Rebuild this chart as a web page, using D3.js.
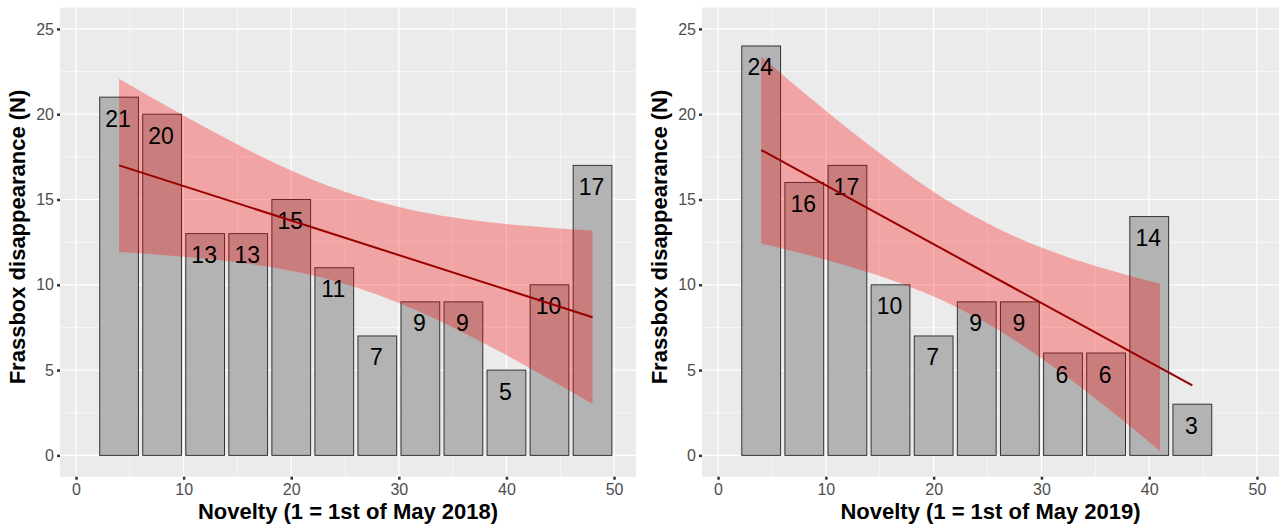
<!DOCTYPE html>
<html><head><meta charset="utf-8">
<script src="https://cdn.jsdelivr.net/npm/d3@7"></script>
<style>
body{margin:0;background:#fff}
svg{display:block}
text{font-family:"Liberation Sans",Arial,Helvetica,sans-serif}
</style>
</head><body>
<svg id="chart" width="1283" height="528"></svg>
<script>
// ---- data ----
const days2018 = [4, 8, 12, 16, 20, 24, 28, 32, 36, 40, 44, 48];
const counts2018 = [21, 20, 13, 13, 15, 11, 7, 9, 9, 5, 10, 17];
const days2019 = [4, 8, 12, 16, 20, 24, 28, 32, 36, 40, 44];
const counts2019 = [24, 16, 17, 10, 7, 9, 9, 6, 6, 14, 3];

// fitted trend lines
const fitX2018 = [4, 48];
const fitY2018 = [17.0, 8.1];
const fitX2019 = [4, 44];
const fitY2019 = [17.9, 4.1];

// confidence ribbons
const bandX2018 = [4, 8, 12, 16, 20, 24, 28, 32, 36, 40, 44, 48];
const bandHi2018 = [22.08, 20.63, 19.23, 17.90, 16.70, 15.68, 14.88, 14.28, 13.86, 13.56, 13.35, 13.18];
const bandLo2018 = [11.92, 11.75, 11.53, 11.24, 10.82, 10.22, 9.42, 8.40, 7.19, 5.88, 4.47, 3.02];
const bandX2019 = [4, 8, 12, 16, 20, 24, 28, 32, 36, 40, 41];
const bandHi2019 = [23.38, 21.24, 19.18, 17.24, 15.46, 13.94, 12.70, 11.72, 10.92, 10.22, 10.06];
const bandLo2019 = [12.42, 11.80, 11.10, 10.30, 9.32, 8.08, 6.56, 4.78, 2.84, 0.78, 0.24];

const xTicks = [0, 10, 20, 30, 40, 50];
const xMinor = [5, 15, 25, 35, 45];
const yTicks = [0, 5, 10, 15, 20, 25];
const yMinor = [2.5, 7.5, 12.5, 17.5, 22.5];
const xTitle2018 = "Novelty (1 = 1st of May 2018)";
const xTitle2019 = "Novelty (1 = 1st of May 2019)";
const yTitle = "Frassbox disappearance (N)";
const barWidthDays = 3.6;

// ---- drawing ----
const svg = d3.select("#chart");
const panelTop = 7.6, panelBottom = 476.7;
const y = d3.scaleLinear().domain([-1.25, 26.25]).range([panelBottom, panelTop]);

function drawPanel(opt) {
  const g = svg.append("g");
  const x = d3.scaleLinear().domain([-1.49, 52.04]).range([opt.x0, opt.x1]);

  g.append("rect").attr("x", opt.x0).attr("y", panelTop)
    .attr("width", opt.x1 - opt.x0).attr("height", panelBottom - panelTop)
    .attr("fill", "#EBEBEB");

  // minor grid
  g.selectAll(".xm").data(xMinor).enter().append("line")
    .attr("x1", d => x(d)).attr("x2", d => x(d))
    .attr("y1", panelTop).attr("y2", panelBottom)
    .attr("stroke", "#fff").attr("stroke-width", 0.6);
  g.selectAll(".ym").data(yMinor).enter().append("line")
    .attr("x1", opt.x0).attr("x2", opt.x1)
    .attr("y1", d => y(d)).attr("y2", d => y(d))
    .attr("stroke", "#fff").attr("stroke-width", 0.6);
  // major grid
  g.selectAll(".xg").data(xTicks).enter().append("line")
    .attr("x1", d => x(d)).attr("x2", d => x(d))
    .attr("y1", panelTop).attr("y2", panelBottom)
    .attr("stroke", "#fff").attr("stroke-width", 1.2);
  g.selectAll(".yg").data(yTicks).enter().append("line")
    .attr("x1", opt.x0).attr("x2", opt.x1)
    .attr("y1", d => y(d)).attr("y2", d => y(d))
    .attr("stroke", "#fff").attr("stroke-width", 1.2);

  // bars
  const data = opt.days.map((d, i) => ({ d, v: opt.counts[i] }));
  g.selectAll(".bar").data(data).enter().append("rect")
    .attr("x", d => x(d.d - barWidthDays / 2))
    .attr("width", d => x(d.d + barWidthDays / 2) - x(d.d - barWidthDays / 2))
    .attr("y", d => y(d.v))
    .attr("height", d => y(0) - y(d.v))
    .attr("fill", "#B3B3B3").attr("stroke", "#333").attr("stroke-width", 1);

  // ribbon
  const band = opt.bandX.map((d, i) => ({ d, hi: opt.bandHi[i], lo: opt.bandLo[i] }));
  g.append("path").datum(band)
    .attr("d", d3.area().curve(d3.curveMonotoneX)
      .x(d => x(d.d)).y0(d => y(d.lo)).y1(d => y(d.hi)))
    .attr("fill", "red").attr("fill-opacity", 0.3);

  // labels
  g.selectAll(".lab").data(data).enter().append("text")
    .attr("x", d => x(d.d) - 1).attr("y", d => y(d.v) + 29.5)
    .attr("text-anchor", "middle").attr("font-size", 23).attr("fill", "#000")
    .text(d => d.v);

  // fit line
  const fit = opt.fitX.map((d, i) => ({ d, v: opt.fitY[i] }));
  g.append("path").datum(fit)
    .attr("d", d3.line().x(d => x(d.d)).y(d => y(d.v)))
    .attr("fill", "none").attr("stroke", "#990000").attr("stroke-width", 2);

  // y axis
  const ya = g.append("g").attr("transform", `translate(${opt.x0},0)`)
    .call(d3.axisLeft(y).tickValues(yTicks).tickSize(3).tickPadding(3).tickFormat(d3.format("d")));
  ya.select(".domain").remove();
  ya.selectAll(".tick line").attr("stroke", "#333").attr("stroke-width", 2.5);
  ya.selectAll(".tick text").attr("fill", "#4D4D4D").attr("font-size", 16)
    .attr("font-family", '"Liberation Sans",Arial,sans-serif');

  // x axis
  const xa = g.append("g").attr("transform", `translate(0,${panelBottom})`)
    .call(d3.axisBottom(x).tickValues(xTicks).tickSize(3).tickPadding(4).tickFormat(d3.format("d")));
  xa.select(".domain").remove();
  xa.selectAll(".tick line").attr("stroke", "#333").attr("stroke-width", 2.5);
  xa.selectAll(".tick text").attr("fill", "#4D4D4D").attr("font-size", 16)
    .attr("font-family", '"Liberation Sans",Arial,sans-serif');

  // titles
  g.append("text").attr("x", (opt.x0 + opt.x1) / 2).attr("y", 519)
    .attr("text-anchor", "middle").attr("font-size", 22).attr("font-weight", "bold")
    .attr("fill", "#000").text(opt.xTitle);
  g.append("text")
    .attr("transform", `translate(${opt.x0 - 35},237) rotate(-90)`)
    .attr("text-anchor", "middle").attr("font-size", 22).attr("font-weight", "bold")
    .attr("fill", "#000").text(yTitle);
}

drawPanel({ x0: 60, x1: 636, days: days2018, counts: counts2018,
  bandX: bandX2018, bandHi: bandHi2018, bandLo: bandLo2018,
  fitX: fitX2018, fitY: fitY2018, xTitle: xTitle2018 });
drawPanel({ x0: 702, x1: 1279, days: days2019, counts: counts2019,
  bandX: bandX2019, bandHi: bandHi2019, bandLo: bandLo2019,
  fitX: fitX2019, fitY: fitY2019, xTitle: xTitle2019 });
</script>
</body></html>
